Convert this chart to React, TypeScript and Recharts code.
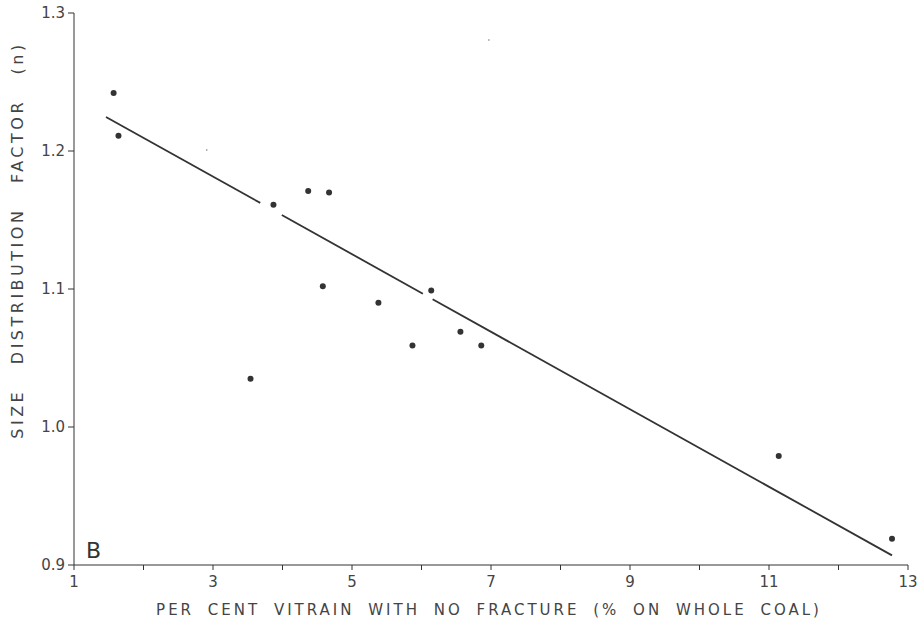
import React from 'react';
import { ScatterChart, Scatter, XAxis, YAxis, ReferenceLine } from 'recharts';

// measured points: per cent vitrain with no fracture vs size distribution factor n
const vitrainPct = [1.57, 1.64, 3.54, 3.87, 4.37, 4.67, 4.58, 5.38, 5.87, 6.14, 6.56, 6.86, 11.14, 12.77];
const sizeFactor = [1.242, 1.211, 1.035, 1.161, 1.171, 1.170, 1.102, 1.090, 1.059, 1.099, 1.069, 1.059, 0.979, 0.919];

// regression line, drawn in three pieces (breaks in the original print)
const fitX = [1.46, 3.68, 3.99, 6.02, 6.16, 12.77];
const fitY = [1.2246, 1.1624, 1.1536, 1.0966, 1.0926, 0.907];

// stray specks from the scan
const speckX = [6.97, 2.91];
const speckY = [1.2804, 1.2007];

const xTicks = [1, 2, 3, 4, 5, 6, 7, 8, 9, 10, 11, 12, 13];
const yTicks = [0.9, 1.0, 1.1, 1.2, 1.3];

const INK = '#333';
const FONT = '"DejaVu Sans", sans-serif';

const points = vitrainPct.map((x, i) => ({ x, y: sizeFactor[i] }));
const specks = speckX.map((x, i) => ({ x, y: speckY[i] }));
const segments = [0, 2, 4].map((i) => [
  { x: fitX[i], y: fitY[i] },
  { x: fitX[i + 1], y: fitY[i + 1] },
]);

const Dot = (props: any) => <circle cx={props.cx} cy={props.cy} r={3} fill={INK} />;
const Speck = (props: any) => <circle cx={props.cx} cy={props.cy} r={0.8} fill="#777" />;

const XTitle = (props: any) => {
  const vb = props.viewBox;
  return (
    <text
      x={vb.x + vb.width / 2 - 2}
      y={vb.y + 50}
      textAnchor="middle"
      fontFamily={FONT}
      fontSize={15}
      fill="#444"
      letterSpacing={3}
      wordSpacing={6}
    >
      PER CENT VITRAIN WITH NO FRACTURE (% ON WHOLE COAL)
    </text>
  );
};

const YTitle = () => (
  <text
    x={0}
    y={0}
    transform="translate(23, 240) rotate(-90)"
    textAnchor="middle"
    fontFamily={FONT}
    fontSize={16}
    fill="#444"
    letterSpacing={3.5}
    wordSpacing={16}
  >
    SIZE DISTRIBUTION FACTOR (n)
  </text>
);

export default function App() {
  return (
    <div style={{ position: 'absolute', left: 0, top: 0, width: 920, height: 634, background: '#fff' }}>
      <ScatterChart width={920} height={634} margin={{ top: 13, right: 12, bottom: 0, left: 0 }}>
        <XAxis
          type="number"
          dataKey="x"
          domain={[1, 13]}
          ticks={xTicks}
          tickFormatter={(v: number) => (v % 2 === 1 ? String(v) : '')}
          height={69}
          stroke={INK}
          tickSize={5}
          tickMargin={6}
          tick={{ fontFamily: FONT, fontSize: 15, fill: '#444' }}
          label={<XTitle />}
        />
        <YAxis
          type="number"
          dataKey="y"
          domain={[0.9, 1.3]}
          ticks={yTicks}
          tickFormatter={(v: number) => v.toFixed(1)}
          width={74}
          stroke={INK}
          tickSize={6}
          tickMargin={3}
          tick={{ fontFamily: FONT, fontSize: 15, fill: '#444' }}
        />
        {segments.map((seg, i) => (
          <ReferenceLine
            key={i}
            segment={seg}
            stroke={INK}
            strokeWidth={1.8}
            ifOverflow="visible"
          />
        ))}
        <Scatter data={specks} shape={<Speck />} isAnimationActive={false} />
        <Scatter data={points} shape={<Dot />} isAnimationActive={false} />
      </ScatterChart>
      <svg width={920} height={634} style={{ position: 'absolute', left: 0, top: 0, pointerEvents: 'none' }}>
        <YTitle />
        <text x={86} y={558} fontFamily={FONT} fontSize={22} fill="#333">
          B
        </text>
      </svg>
    </div>
  );
}
